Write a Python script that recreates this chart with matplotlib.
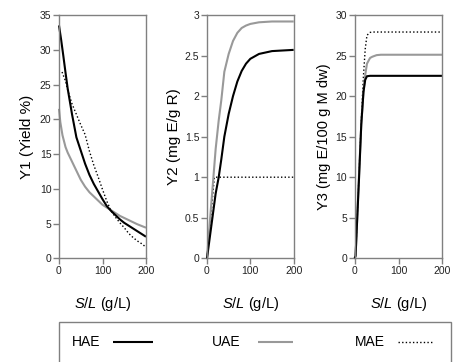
import matplotlib
matplotlib.use("Agg")
import matplotlib.pyplot as plt
from matplotlib.lines import Line2D
from matplotlib.patches import Rectangle

plt.rcParams['font.family'] = ['Liberation Sans', 'DejaVu Sans']
plt.rcParams['mathtext.fontset'] = 'custom'
plt.rcParams['mathtext.it'] = 'Liberation Sans:italic'
plt.rcParams['mathtext.rm'] = 'Liberation Sans'

# ---------------- data ----------------
x_y1 = [0, 5, 10, 15, 20, 30, 40, 50, 60, 70, 80, 90, 100, 110, 120, 130, 140, 150, 160, 170, 180, 190, 200]
y1_hae = [33.5, 31.4, 29.1, 26.7, 24.4, 20.7, 17.4, 15.5, 13.6, 12.0, 10.7, 9.6, 8.5, 7.5, 6.8, 6.2, 5.6, 5.1, 4.7, 4.3, 3.9, 3.5, 3.1]
y1_uae_x = [0, 3, 8, 15, 20, 30, 40, 50, 60, 70, 80, 90, 100, 110, 120, 130, 140, 150, 160, 170, 180, 190, 200]
y1_uae = [21.5, 19.6, 17.7, 16.0, 15.2, 13.9, 12.6, 11.3, 10.3, 9.5, 8.9, 8.3, 7.7, 7.3, 6.9, 6.5, 6.1, 5.8, 5.5, 5.2, 4.9, 4.65, 4.4]
y1_mae_x = [7, 10, 15, 20, 30, 40, 50, 60, 70, 80, 90, 100, 110, 120, 130, 140, 150, 160, 170, 180, 190, 200]
y1_mae = [26.8, 26.3, 25.5, 24.2, 22.2, 20.7, 19.2, 17.8, 15.4, 13.4, 11.7, 9.9, 8.2, 6.8, 5.9, 5.1, 4.4, 3.6, 3.0, 2.5, 2.1, 1.6]

x_y2 = [0, 10, 20, 27, 33, 40, 50, 60, 70, 80, 90, 100, 120, 150, 200]
y2_hae = [0, 0.4, 0.8, 1.0, 1.22, 1.5, 1.78, 2.0, 2.18, 2.31, 2.4, 2.46, 2.52, 2.555, 2.57]
y2_uae = [0, 0.68, 1.35, 1.7, 1.95, 2.3, 2.52, 2.68, 2.78, 2.84, 2.87, 2.89, 2.91, 2.92, 2.92]
x_y2_mae = [0, 17, 200]
y2_mae = [0, 1.0, 1.0]

x_y3 = [0, 2, 5, 10, 15, 20, 24, 28, 35, 40, 50, 60, 200]
y3_hae = [0, 0.3, 4.0, 10.0, 16.5, 20.5, 22.0, 22.45, 22.5, 22.5, 22.5, 22.5, 22.5]
y3_uae = [0, 0.3, 4.0, 10.5, 16.5, 20.5, 22.6, 24.0, 24.7, 24.85, 25.05, 25.1, 25.1]
y3_mae = [0, 0.3, 4.0, 10.5, 17.0, 22.5, 25.8, 27.5, 27.85, 27.9, 27.9, 27.9, 27.9]

x_ticks = [0, 100, 200]
y1_ticks = [0, 5, 10, 15, 20, 25, 30, 35]
y2_ticks = [0, 0.5, 1, 1.5, 2, 2.5, 3]
y2_ticklabels = ['0', '0.5', '1', '1.5', '2', '2.5', '3']
y3_ticks = [0, 5, 10, 15, 20, 25, 30]

ylabels = ['Y1 (Yield %)', 'Y2 (mg E/g R)', 'Y3 (mg E/100 g M dw)']
xlabel = r'$\mathit{S/L}$ (g/L)'
series_names = ['HAE', 'UAE', 'MAE']

# ---------------- styling ----------------
W, H = 453, 362
fig = plt.figure(figsize=(W / 100, H / 100), dpi=100)
spine_c = '#808080'
black_style = dict(color='black', lw=1.5, solid_capstyle='butt')
gray_style = dict(color='#999999', lw=1.5, solid_capstyle='butt')
dot_style = dict(color='black', lw=1.0, linestyle=(0, (1, 1.6)))

bottom = 1 - 258.3 / H
height = (258.3 - 15) / H
lefts = [59, 207, 354.7]
widths = [87, 86.7, 87.6]

axes = []
for l, w in zip(lefts, widths):
    ax = fig.add_axes([l / W, bottom, w / W, height])
    for s in ax.spines.values():
        s.set_color(spine_c)
        s.set_linewidth(1.0)
    ax.tick_params(direction='out', length=4, width=1.0, color=spine_c,
                   labelsize=7.5, labelcolor='#222222', pad=1.5)
    ax.set_xlim(0, 200)
    ax.set_xticks(x_ticks)
    ax.set_xlabel(xlabel, fontsize=10.5, labelpad=14)
    axes.append(ax)

ax1, ax2, ax3 = axes
ax1.plot(y1_mae_x, y1_mae, **dot_style)
ax1.plot(y1_uae_x, y1_uae, **gray_style)
ax1.plot(x_y1, y1_hae, **black_style)
ax1.set_ylim(0, 35)
ax1.set_yticks(y1_ticks)
ax1.set_ylabel(ylabels[0], fontsize=11, labelpad=4)

ax2.plot(x_y2_mae, y2_mae, **dot_style)
ax2.plot(x_y2, y2_uae, **gray_style)
ax2.plot(x_y2, y2_hae, **black_style)
ax2.set_ylim(0, 3)
ax2.set_yticks(y2_ticks)
ax2.set_yticklabels(y2_ticklabels)
ax2.set_ylabel(ylabels[1], fontsize=11, labelpad=3)

ax3.plot(x_y3, y3_mae, **dot_style)
ax3.plot(x_y3, y3_uae, **gray_style)
ax3.plot(x_y3, y3_hae, **black_style)
ax3.set_ylim(0, 30)
ax3.set_yticks(y3_ticks)
ax3.set_ylabel(ylabels[2], fontsize=10.5, labelpad=3,
               family=['Liberation Sans Narrow', 'Liberation Sans'])

for ax in axes:
    for ln in ax.get_lines():
        ln.set_clip_on(False)

# ---------------- legend box ----------------
rect = Rectangle((59 / W, -0.05), (451 - 59) / W, 0.05 + (1 - 322 / H),
                 transform=fig.transFigure, fill=False, edgecolor=spine_c,
                 lw=1.0, clip_on=False)
fig.add_artist(rect)
ty = 1 - 342 / H
entries = [(series_names[0], 72, 113, 153, black_style),
           (series_names[1], 212, 258, 293, gray_style),
           (series_names[2], 355, 398, 433, dot_style)]
for name, tx, x0, x1, st in entries:
    fig.text(tx / W, ty, name, fontsize=10, va='center', ha='left')
    fig.add_artist(Line2D([x0 / W, x1 / W], [ty, ty], transform=fig.transFigure, **st))

fig.savefig('out.png', dpi=100)
